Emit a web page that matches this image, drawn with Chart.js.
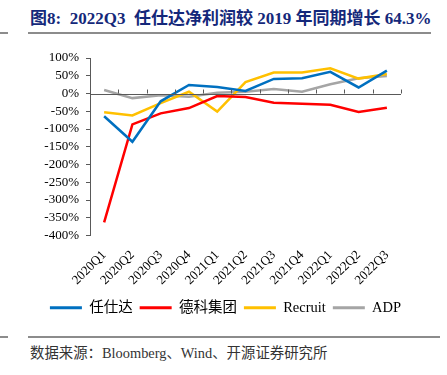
<!DOCTYPE html>
<html>
<head>
<meta charset="utf-8">
<script src="https://cdn.jsdelivr.net/npm/chart.js@4.4.0/dist/chart.umd.min.js"></script>
<style>
  body { margin: 0; background: #fff; width: 447px; height: 375px; position: relative; overflow: hidden; }
  #title { position: absolute; left: 30px; top: 4px; font: bold 17px "Liberation Serif", "Noto Sans CJK SC", serif; color: #14287a; white-space: nowrap; }
  .rule { position: absolute; height: 2px; background: #8c8c8c; }
  #src { position: absolute; left: 30px; top: 341px; font: 14.4px "Liberation Serif", "Noto Sans CJK SC", serif; color: #333; white-space: nowrap; }
  #wrap { position: absolute; left: 0; top: 0; width: 447px; height: 325px; }
</style>
</head>
<body>
<div id="title">图8:&nbsp; 2022Q3&nbsp; 任仕达净利润较 2019 年同期增长 64.3%</div>
<div class="rule" style="left:0;width:8px;top:32px"></div>
<div class="rule" style="left:28px;width:403px;top:32px"></div>
<div id="wrap"><canvas id="myChart"></canvas></div>
<div class="rule" style="left:0;width:8px;top:336px"></div>
<div class="rule" style="left:28px;width:412px;top:336px"></div>
<div id="src">数据来源：Bloomberg、Wind、开源证券研究所</div>
<script>
const labels = ['2020Q1','2020Q2','2020Q3','2020Q4','2021Q1','2021Q2','2021Q3','2021Q4','2022Q1','2022Q2','2022Q3']
const randstad = [-64, -136, -22, 24, 18, 7, 41, 43, 61, 17, 64.3]
const adecco = [-363, -87, -56, -41, -7, -10, -26, -29, -32, -52, -40]
const recruit = [-53, -62, -27, 5, -51, 32, 59, 59, 71, 42, 55]
const adp = [10, -13, -5, -9, 2, 5, 13, 5, 26, 43, 49]

const serif = '"Liberation Serif", "Noto Sans CJK SC", serif'

// zero line with small upward ticks, like the original axis
const zeroAxis = {
  id: 'zeroAxis',
  afterLayout(chart) {
    // legend sits a bit right of the plot centre in the original
    chart.legend.left += 25
    chart.legend.right += 25
  },
  afterDatasetsDraw(chart) {
    const ctx = chart.ctx
    const x = chart.scales.x, y = chart.scales.y
    const y0 = y.getPixelForValue(0)
    const half = (x.getPixelForValue(1) - x.getPixelForValue(0)) / 2
    ctx.save()
    ctx.strokeStyle = '#595959'
    ctx.lineWidth = 1
    ctx.beginPath()
    ctx.moveTo(chart.chartArea.left, Math.round(y0) + 0.5)
    ctx.lineTo(chart.chartArea.right, Math.round(y0) + 0.5)
    for (let i = 0; i <= labels.length; i++) {
      const px = x.getPixelForValue(i) - half
      ctx.moveTo(Math.round(px) + 0.5, y0)
      ctx.lineTo(Math.round(px) + 0.5, y0 - 4)
    }
    ctx.stroke()
    ctx.restore()
  }
}

const mk = (label, data, color) => ({
  label: label, data: data, borderColor: color, backgroundColor: color,
  borderWidth: 2.5, pointRadius: 0, tension: 0, fill: false
})

var ctx = document.getElementById('myChart').getContext('2d');
var myChart = new Chart(ctx, {
  type: 'line',
  data: {
    labels: labels,
    datasets: [
      mk('任仕达', randstad, '#0070c0'),
      mk('德科集团', adecco, '#ff0000'),
      mk('Recruit', recruit, '#ffc000'),
      mk('ADP', adp, '#a5a5a5')
    ]
  },
  options: {
    responsive: true,
    maintainAspectRatio: false,
    animation: false,
    layout: { padding: { top: 58, right: 46, left: 0, bottom: 0 } },
    scales: {
      x: {
        offset: true,
        grid: { display: false, drawTicks: false },
        border: { display: false },
        ticks: { color: '#000', font: { family: serif, size: 13 }, maxRotation: 45, minRotation: 45, padding: 12, autoSkip: false },
        afterFit: s => { s.height = 58 }
      },
      y: {
        min: -400, max: 100,
        grid: { drawOnChartArea: false, tickLength: 4, color: '#595959' },
        border: { color: '#595959' },
        ticks: { stepSize: 50, autoSkip: false, color: '#000', font: { family: serif, size: 13 }, padding: 7, callback: v => v + '%' },
        afterFit: s => { s.width = 90 }
      }
    },
    plugins: {
      legend: {
        position: 'bottom',
        labels: {
          boxWidth: 32, boxHeight: 3, padding: 7, color: '#000',
          font: { family: serif, size: 14.5 },
          generateLabels: chart => Chart.defaults.plugins.legend.labels.generateLabels(chart).map(l => ({ ...l, lineWidth: 0 }))
        }
      },
      tooltip: { enabled: false }
    }
  },
  plugins: [zeroAxis]
});
</script>
</body>
</html>
